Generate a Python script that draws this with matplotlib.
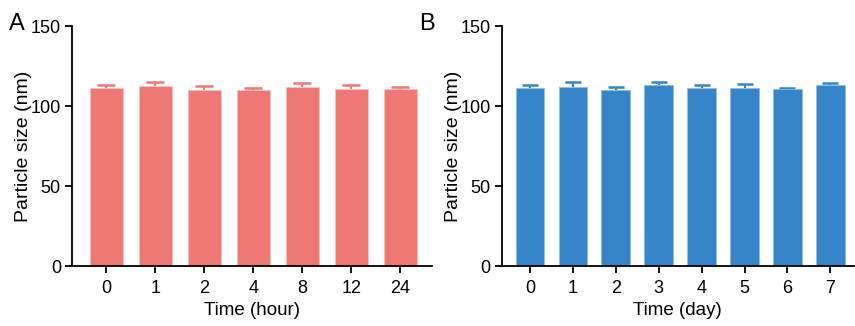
import matplotlib.pyplot as plt

plt.rcParams["font.family"] = ["Liberation Sans", "DejaVu Sans"]

# Panel A: particle size over hours
hours = ["0", "1", "2", "4", "8", "12", "24"]
size_hours = [111.0, 112.5, 110.0, 109.8, 111.7, 110.8, 110.4]
err_hours = [2.0, 2.5, 2.5, 1.7, 2.9, 2.2, 1.6]

# Panel B: particle size over days
days = ["0", "1", "2", "3", "4", "5", "6", "7"]
size_days = [111.0, 112.0, 110.0, 113.0, 111.0, 111.4, 110.6, 113.0]
err_days = [2.0, 3.0, 2.2, 2.0, 2.2, 2.3, 1.0, 1.3]

red = "#EE7873"
blue = "#3585C8"

fig = plt.figure(figsize=(8.55, 3.26), dpi=100)
ax1 = fig.add_axes([0.0842, 0.184, 0.421, 0.736])
ax2 = fig.add_axes([0.5868, 0.184, 0.412, 0.736])


def draw(ax, labels, vals, errs, color, edge, xlabel, xlim, capw):
    x = list(range(len(labels)))
    tops = [v + e for v, e in zip(vals, errs)]
    # error stems and upper caps only
    ax.errorbar(x, vals, yerr=[[0] * len(errs), errs], fmt="none",
                ecolor=color, elinewidth=1.6, capsize=0, zorder=1)
    ax.plot(x, tops, ls="none", marker="_", ms=capw, mew=1.8,
            color=color, zorder=1)
    ax.bar(x, vals, width=0.67, color=color, edgecolor=edge,
           linewidth=0.6, zorder=2)
    ax.set_xticks(x)
    ax.set_xticklabels(labels)
    ax.set_xlim(*xlim)
    ax.set_ylim(0, 150)
    ax.set_yticks([0, 50, 100, 150])
    ax.set_xlabel(xlabel, fontsize=13.5, labelpad=4)
    ax.set_ylabel("Particle size (nm)", fontsize=14, labelpad=-1)
    for s in ["top", "right"]:
        ax.spines[s].set_visible(False)
    for s in ["left", "bottom"]:
        ax.spines[s].set_linewidth(1.3)
    ax.tick_params(axis="y", width=1.3, length=5, labelsize=13, pad=3)
    ax.tick_params(axis="x", width=1.3, length=5, labelsize=13, pad=5)


draw(ax1, hours, size_hours, err_hours, red, "#F6C3C0", "Time (hour)", (-0.7, 6.65), 12.5)
draw(ax2, days, size_days, err_days, blue, "#8CBCE4", "Time (day)", (-0.66, 7.55), 11)

fig.text(0.010, 0.96, "A", fontsize=17, va="top")
fig.text(0.490, 0.96, "B", fontsize=17, va="top")

fig.savefig("out.png", dpi=100)
